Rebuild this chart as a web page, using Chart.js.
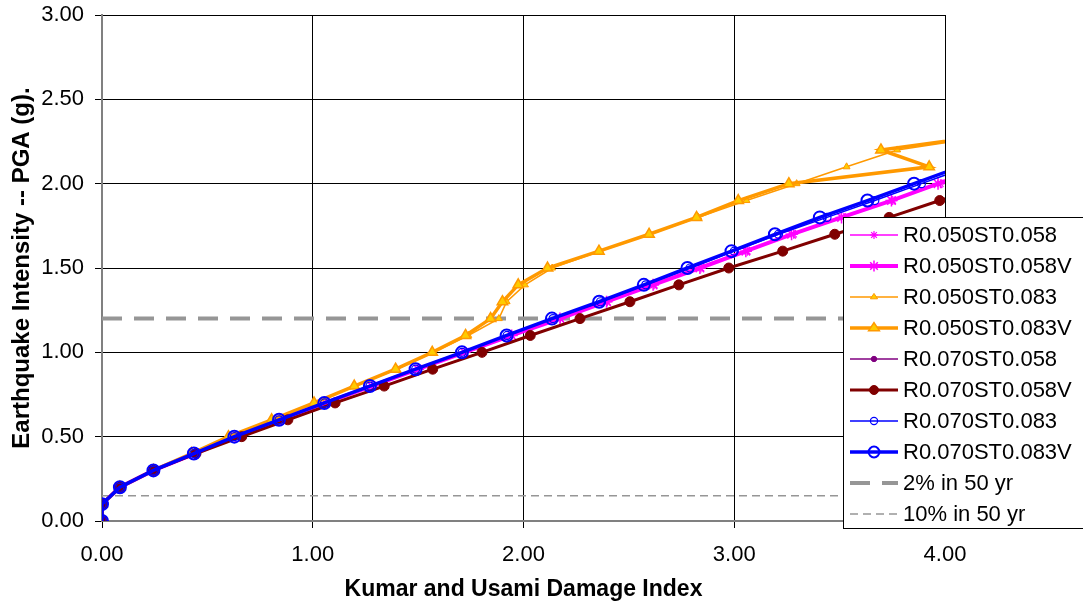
<!DOCTYPE html>
<html>
<head>
<meta charset="utf-8">
<title>Kumar and Usami Damage Index</title>
<script src="https://cdn.jsdelivr.net/npm/chart.js@4.4.1/dist/chart.umd.min.js"></script>
<style>
	html, body { margin: 0; padding: 0; background: #fff; }
	#wrap { width: 1083px; height: 606px; }
</style>
</head>
<body>
<div id="wrap"><canvas id="damageChart" width="1083" height="606"></canvas></div>
<script>
// PGA levels (g) of the incremental dynamic analysis
const pgaLevels = [0, 0.1, 0.2, 0.3, 0.4, 0.5, 0.6, 0.7, 0.8, 0.9, 1.0, 1.1, 1.2, 1.3, 1.4, 1.5, 1.6, 1.7, 1.8, 1.9, 2.0, 2.1, 2.2, 2.3];

// Damage index reached at each PGA level
const r050st058 = [0, 0, 0.085, 0.244, 0.44, 0.632, 0.845, 1.06, 1.28, 1.5, 1.72, 1.944, 2.175, 2.398, 2.62, 2.842, 3.062, 3.282, 3.52, 3.752, 3.978, 4.2];
const r050st058V = [0, 0, 0.085, 0.244, 0.44, 0.632, 0.845, 1.06, 1.28, 1.5, 1.72, 1.944, 2.173, 2.394, 2.615, 2.837, 3.055, 3.272, 3.509, 3.746, 3.967, 4.19];
const r050st083 = [0, 0, 0.085, 0.244, 0.425, 0.6, 0.805, 1.008, 1.2, 1.398, 1.572, 1.738, 1.883, 1.92, 2.007, 2.136, 2.365, 2.6, 2.83, 3.058, 3.296, 3.533, 3.773, 4.3];
const r050st083V = [0, 0, 0.085, 0.244, 0.425, 0.6, 0.805, 1.006, 1.197, 1.393, 1.567, 1.725, 1.844, 1.9, 1.975, 2.114, 2.358, 2.596, 2.821, 3.019, 3.259, 3.925, 3.696, 4.29];
const r070st058 = [0, 0, 0.085, 0.244, 0.446, 0.663, 0.882, 1.106, 1.339, 1.569, 1.803, 2.032, 2.268, 2.505, 2.737, 2.974, 3.23, 3.477, 3.735, 3.975, 4.23];
const r070st058V = [0, 0, 0.085, 0.244, 0.446, 0.663, 0.882, 1.106, 1.339, 1.569, 1.803, 2.032, 2.268, 2.505, 2.737, 2.974, 3.23, 3.477, 3.735, 3.975, 4.23];
const r070st083 = [0, 0, 0.085, 0.244, 0.436, 0.628, 0.84, 1.056, 1.271, 1.488, 1.708, 1.922, 2.14, 2.365, 2.58, 2.79, 3.0, 3.21, 3.44, 3.667, 3.888, 4.11];
const r070st083V = [0, 0, 0.085, 0.244, 0.436, 0.628, 0.84, 1.055, 1.271, 1.488, 1.708, 1.92, 2.135, 2.359, 2.571, 2.778, 2.987, 3.193, 3.406, 3.632, 3.853, 4.07];

// Hazard levels (g) and the damage index range they span
const hazard2in50 = 1.2;
const hazard10in50 = 0.15;
const hazardSpan = [0, 4];

const xTicks = [0, 1, 2, 3, 4];
const yTicks = [0, 0.5, 1, 1.5, 2, 2.5, 3];

function toPoints(damage) {
	return damage.map((d, i) => ({ x: d, y: pgaLevels[i] }));
}

function hazardLine(level) {
	return hazardSpan.map((d) => ({ x: d, y: level }));
}

const FONT = "'Liberation Sans', Arial, sans-serif";

const datasets = [
	{ label: 'R0.050ST0.058', data: toPoints(r050st058), borderColor: '#ff00ff', backgroundColor: '#ff00ff', borderWidth: 1.5, pointStyle: 'star', pointRadius: 4.5, pointBorderWidth: 1.2, order: 8 },
	{ label: 'R0.050ST0.058V', data: toPoints(r050st058V), borderColor: '#ff00ff', backgroundColor: '#ff00ff', borderWidth: 4, pointStyle: 'star', pointRadius: 6, pointBorderWidth: 1.5, order: 7 },
	{ label: 'R0.050ST0.083', data: toPoints(r050st083), borderColor: '#ff9900', backgroundColor: '#ffcc00', borderWidth: 1.5, pointStyle: 'triangle', pointRadius: 4, pointBorderWidth: 1, order: 6 },
	{ label: 'R0.050ST0.083V', data: toPoints(r050st083V), borderColor: '#ff9900', backgroundColor: '#ffcc00', borderWidth: 3.5, pointStyle: 'triangle', pointRadius: 6, pointBorderWidth: 1.5, order: 5 },
	{ label: 'R0.070ST0.058', data: toPoints(r070st058), borderColor: '#800080', backgroundColor: '#800080', borderWidth: 1.5, pointStyle: 'circle', pointRadius: 3, pointBorderWidth: 1, order: 4 },
	{ label: 'R0.070ST0.058V', data: toPoints(r070st058V), borderColor: '#800000', backgroundColor: '#800000', borderWidth: 3, pointStyle: 'circle', pointRadius: 5, pointBorderWidth: 1, order: 3 },
	{ label: 'R0.070ST0.083', data: toPoints(r070st083), borderColor: '#0000ff', backgroundColor: 'rgba(0,0,0,0)', borderWidth: 1.5, pointStyle: 'circle', pointRadius: 4, pointBorderWidth: 1.2, order: 2 },
	{ label: 'R0.070ST0.083V', data: toPoints(r070st083V), borderColor: '#0000ff', backgroundColor: 'rgba(0,0,0,0)', borderWidth: 3.5, pointStyle: 'circle', pointRadius: 6, pointBorderWidth: 2, order: 1 },
	{ label: '2% in 50 yr', data: hazardLine(hazard2in50), borderColor: '#969696', borderWidth: 4, borderDash: [20, 12], pointRadius: 0, order: 9 },
	{ label: '10% in 50 yr', data: hazardLine(hazard10in50), borderColor: '#969696', borderWidth: 1.5, borderDash: [8, 5], pointRadius: 0, order: 10 },
];

datasets.forEach((ds) => {
	ds.showLine = true;
	ds.fill = false;
	ds.tension = 0;
	ds.pointBackgroundColor = ds.backgroundColor;
	ds.pointBorderColor = ds.borderColor;
});

// draw a legend marker like the chart's own points
function drawMarker(ctx, style, x, y, r, fill, stroke, lw) {
	ctx.save();
	ctx.fillStyle = fill;
	ctx.strokeStyle = stroke;
	ctx.lineWidth = lw;
	ctx.setLineDash([]);
	ctx.beginPath();
	if (style === 'circle') {
		ctx.arc(x, y, r, 0, Math.PI * 2);
		ctx.fill();
		ctx.stroke();
	} else if (style === 'triangle') {
		const h = r * 1.5;
		ctx.moveTo(x, y - r);
		ctx.lineTo(x + h * 0.577 * 1.15, y + r * 0.5);
		ctx.lineTo(x - h * 0.577 * 1.15, y + r * 0.5);
		ctx.closePath();
		ctx.fill();
		ctx.stroke();
	} else if (style === 'star') {
		for (let a = 0; a < 4; a++) {
			const ang = (a * Math.PI) / 4;
			ctx.moveTo(x - Math.cos(ang) * r, y - Math.sin(ang) * r);
			ctx.lineTo(x + Math.cos(ang) * r, y + Math.sin(ang) * r);
		}
		ctx.stroke();
	}
	ctx.restore();
}

// Legend box overlapping the plot, as in the original spreadsheet chart
const boxLegend = {
	id: 'boxLegend',
	afterDraw(chart) {
		const ctx = chart.ctx;
		const left = 843, top = 217, width = 250, height = 311;
		const rowH = 31;
		ctx.save();
		ctx.fillStyle = '#fff';
		ctx.fillRect(left, top, width, height);
		ctx.strokeStyle = '#000';
		ctx.lineWidth = 1;
		ctx.strokeRect(left + 0.5, top + 0.5, width, height);
		ctx.font = '22px ' + FONT;
		ctx.textBaseline = 'middle';
		ctx.textAlign = 'left';
		datasets.forEach((ds, i) => {
			const y = top + 18 + i * rowH;
			ctx.save();
			ctx.strokeStyle = ds.borderColor;
			ctx.lineWidth = ds.borderWidth;
			ctx.setLineDash(ds.borderDash || []);
			ctx.beginPath();
			ctx.moveTo(left + 7, y);
			ctx.lineTo(left + 55, y);
			ctx.stroke();
			ctx.restore();
			if (ds.pointRadius > 0) {
				drawMarker(ctx, ds.pointStyle, left + 31, y, ds.pointRadius * 0.9, ds.backgroundColor, ds.borderColor, ds.pointBorderWidth);
			}
			ctx.fillStyle = '#000';
			ctx.fillText(ds.label, left + 60, y + 1);
		});
		ctx.restore();
	},
};

const ctx = document.getElementById('damageChart').getContext('2d');
const damageChart = new Chart(ctx, {
	type: 'scatter',
	data: { datasets: datasets },
	options: {
		responsive: false,
		animation: false,
		layout: { padding: { left: 0, top: 15, right: 138, bottom: 0 } },
		plugins: {
			legend: { display: false },
			tooltip: { enabled: false },
		},
		scales: {
			x: {
				type: 'linear',
				min: 0,
				max: 4,
				afterBuildTicks: (scale) => {
					scale.ticks = xTicks.map((v) => ({ value: v }));
				},
				afterFit: (scale) => {
					scale.height = 85;
				},
				ticks: {
					color: '#000',
					font: { family: FONT, size: 22 },
					padding: 14,
					maxRotation: 0,
					callback: (v) => Number(v).toFixed(2),
				},
				grid: { color: '#000', lineWidth: 1, tickLength: 7 },
				border: { color: '#808080', width: 2 },
				title: {
					display: true,
					text: 'Kumar and Usami Damage Index',
					color: '#000',
					font: { family: FONT, size: 23, weight: 'bold' },
					padding: { top: 4, bottom: 3 },
				},
			},
			y: {
				type: 'linear',
				min: 0,
				max: 3,
				afterBuildTicks: (scale) => {
					scale.ticks = yTicks.map((v) => ({ value: v }));
				},
				afterFit: (scale) => {
					scale.width = 102;
					scale.paddingTop = 0;
					scale.paddingBottom = 0;
				},
				ticks: {
					color: '#000',
					font: { family: FONT, size: 22 },
					padding: 11,
					callback: (v) => Number(v).toFixed(2),
				},
				grid: { color: '#000', lineWidth: 1, tickLength: 7 },
				border: { color: '#808080', width: 2 },
				title: {
					display: true,
					text: 'Earthquake Intensity -- PGA (g).',
					color: '#000',
					font: { family: FONT, size: 24, weight: 'bold' },
					padding: { top: 8, bottom: 4 },
				},
			},
		},
	},
	plugins: [boxLegend],
});
</script>
</body>
</html>
